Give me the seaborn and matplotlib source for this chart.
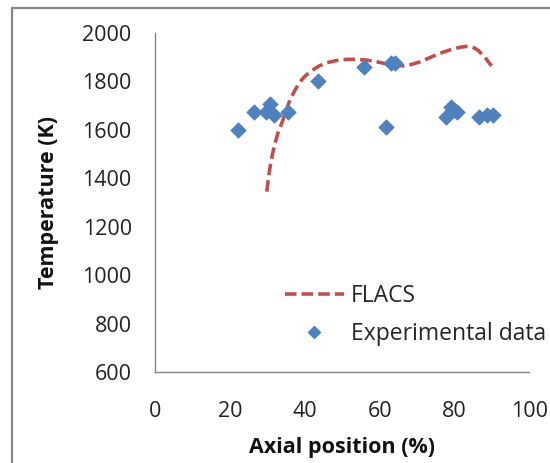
import matplotlib
matplotlib.use("Agg")
import matplotlib.pyplot as plt
from matplotlib.lines import Line2D
import seaborn as sns
import pandas as pd

# FLACS simulation curve
flacs_x = [29.8, 30.2, 30.7, 31.3, 32.0, 32.8, 33.8, 34.9, 36.0, 37.3, 38.7, 40.2, 41.8, 43.7,
           45.8, 48.4, 51.2, 53.8, 56.5, 59.2, 61.9, 64.1, 66.3, 68.5, 70.8, 73.4, 76.1,
           78.8, 81.5, 82.9, 84.1, 85.3, 86.4, 88.2, 89.9]
flacs_y = [1344, 1395, 1447, 1497, 1544, 1587, 1626, 1676, 1722, 1762, 1798, 1823, 1843, 1862,
           1876, 1885, 1890, 1890, 1887, 1880, 1871, 1866, 1863, 1869, 1880, 1897, 1915,
           1929, 1940, 1943, 1943, 1937, 1926, 1897, 1863]

# Experimental data
exp_x = [22.2, 26.5, 29.6, 30.7, 31.6, 35.6, 43.6, 55.9, 61.6, 62.9, 64.1,
         77.6, 79.1, 79.9, 80.6, 86.6, 88.6, 90.4]
exp_y = [1600, 1673, 1673, 1705, 1660, 1673, 1802, 1860, 1612, 1876, 1876,
         1651, 1695, 1683, 1672, 1651, 1662, 1662]

x_ticks = [0, 20, 40, 60, 80, 100]
y_ticks = [600, 800, 1000, 1200, 1400, 1600, 1800, 2000]

sns.set_theme(style="white")
plt.rcParams['font.family'] = ['Open Sans', 'DejaVu Sans']

fig = plt.figure(figsize=(5.5, 4.63), dpi=100)
ax = fig.add_axes([0.2824, 0.1965, 0.68, 0.7329])

red = "#C0504D"
blue = "#4F81BD"
fs = 15.5

df_line = pd.DataFrame({"x": flacs_x, "y": flacs_y})
df_pts = pd.DataFrame({"x": exp_x, "y": exp_y})

sns.lineplot(data=df_line, x="x", y="y", sort=False, ax=ax, color=red,
             linewidth=2.6, estimator=None)
ax.lines[0].set_dashes((3.2, 1.4))
sns.scatterplot(data=df_pts, x="x", y="y", ax=ax, marker="D", color=blue,
                s=62, edgecolor=blue, linewidth=0.5, zorder=3)

ax.set_xlim(0, 100)
ax.set_ylim(600, 2000)
ax.set_xticks(x_ticks)
ax.set_yticks(y_ticks)
ax.tick_params(axis='both', labelsize=fs, colors="#222222")
ax.tick_params(axis='x', pad=14)
ax.tick_params(axis='y', pad=10)

for s in ["top", "right"]:
    ax.spines[s].set_visible(False)
for s in ["left", "bottom"]:
    ax.spines[s].set_color("#868686")
    ax.spines[s].set_linewidth(1.0)

ax.tick_params(axis='both', which='major', length=7, width=1.0, color="#868686",
               direction='out')

ax.set_xlabel("Axial position (%)", fontsize=fs, fontweight="bold", labelpad=11, color="#111111")
ax.set_ylabel("Temperature (K)", fontsize=fs, fontweight="bold", labelpad=17, color="#111111")

handles = [Line2D([0], [0], color=red, linewidth=2.6, dashes=(3.2, 1.4)),
           Line2D([0], [0], color=blue, marker="D", linestyle="None", markersize=6)]
leg = ax.legend(handles, ["FLACS", "Experimental data"], loc="lower left",
                bbox_to_anchor=(0.321, 0.05), frameon=False, fontsize=16.5,
                handlelength=2.6, handletextpad=0.28, labelspacing=0.62, borderaxespad=0)

# figure frame
fig.add_artist(Line2D([12/550, 12/550], [0, 1 - 8/463], transform=fig.transFigure,
                      color="#878787", linewidth=1.6))
fig.add_artist(Line2D([12/550, 1], [1 - 8/463, 1 - 8/463], transform=fig.transFigure,
                      color="#878787", linewidth=1.6))

fig.savefig("out.png", dpi=100)
